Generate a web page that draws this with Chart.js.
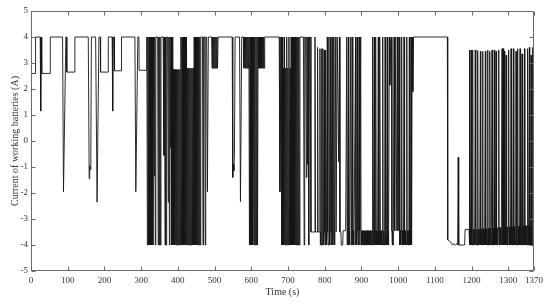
<!DOCTYPE html>
<html>
<head>
<meta charset="utf-8">
<script src="https://cdn.jsdelivr.net/npm/chart.js@4.4.1/dist/chart.umd.min.js"></script>
<style>
  html, body { margin: 0; padding: 0; background: #fff; }
  #wrap { width: 550px; height: 304px; }
</style>
</head>
<body>
<div id="wrap"><canvas id="currentChart" width="550" height="304"></canvas></div>
<script>
// Axis ticks
const xTicks = [0, 100, 200, 300, 400, 500, 600, 700, 800, 900, 1000, 1100, 1200, 1300, 1370];
const yTicks = [-5, -4, -3, -2, -1, 0, 1, 2, 3, 4, 5];

// Time (s) / current (A)
// 0 - 315 s : sparse switching
const tA = [0, 12, 12.5, 25, 26.5, 28, 29, 29.5, 52, 52.5,
  86, 88.5, 95, 97, 97.5, 119, 119.5, 156, 158.5, 160,
  161.5, 163, 164.5, 176, 180, 185, 189, 189.5, 210, 210.5,
  221, 222.5, 224, 227, 227.5, 246, 246.5, 283, 285.5, 291,
  294, 294.5, 315];
const iA = [2.6, 2.6, 4, 4, 1.15, 4, 4, 2.6, 2.6, 4,
  4, -1.95, 4, 4, 2.65, 2.65, 4, 4, -1.45, -0.95,
  -1.1, -0.6, 4, 4, -2.35, 4, 4, 2.65, 2.65, 4,
  4, 1.15, 4, 4, 2.7, 2.7, 4, 4, -1.95, 4,
  4, 2.72, 2.72];

// 315 - 483 s : dense full swing
const tB = [315.5, 317, 318.5, 320, 321.5, 323, 324.5, 326, 327.5, 329,
  330.5, 332, 333.5, 335.5, 337, 338.5, 340, 345, 346.5, 348,
  349.5, 351, 352.5, 354, 360, 362, 363.5, 365, 366.5, 368,
  369.5, 372, 374, 375.5, 377, 378.5, 380, 381.5, 383, 384.5,
  386, 387.5, 389, 390.5, 392, 393.5, 395, 396.5, 398, 399.5,
  401, 402.5, 404, 405.5, 407, 408.5, 410, 411.5, 413, 414.5,
  416, 417.5, 419, 420.5, 422, 423.5, 425, 426.5, 428, 429.5,
  431, 432.5, 434, 435.5, 437, 438.5, 440, 441.5, 443, 444.5,
  446, 447.5, 449, 450.5, 452, 453.5, 455, 456.5, 458, 459.5,
  461, 462.5, 467, 468.5, 470, 473, 474.5, 476, 478.5, 480.5,
  483];
const iB = [4, -4, 4, -4, 4, -4, 4, -4, 4, -4,
  4, -4, 4, -1.35, 4, -4, 4, 4, -4, 4,
  -4, 4, -4, 4, 4, -0.55, 4, -4, 4, -4,
  4, 4, -2.35, 4, -4, 4, -0.25, 4, -4, 4,
  -4, 2.75, -4, 2.75, -4, 2.75, -4, 2.75, -4, 2.75,
  -4, 2.75, -4, 2.75, -4, 4, -4, 4, -4, 4,
  -4, 4, -4, 4, -4, 4, -4, 2.8, -4, 2.8,
  -4, 2.8, -4, 2.8, -4, 2.8, -4, 2.8, -4, 4,
  -4, 4, -4, 4, -4, 4, -4, 4, -4, 4,
  -4, 4, 4, -4, 4, 4, -4, 4, 4, -1.95,
  4];

// 492 - 579 s
const tC = [492, 493, 494.5, 496, 497.5, 499, 500.5, 502, 503.5, 505,
  506.5, 508, 509.5, 548, 549.5, 551, 552.5, 554, 556, 568,
  570.5, 574, 579];
const iC = [4, 2.8, 4, 2.8, 4, 2.8, 4, 2.8, 4, 2.8,
  4, 2.8, 4, 4, -1.4, -0.9, -1.15, -0.6, 4, 4,
  -2.33, 4, 4];

// 580 - 681 s
const tD = [580, 581.5, 583, 584.5, 586, 587.5, 589, 590.5, 592, 593.5,
  595, 596.5, 598, 599.5, 601, 602.5, 604, 606, 607.5, 609,
  611, 612.5, 614, 615.5, 617, 618.5, 620, 621.5, 623, 624.5,
  626, 627.5, 629, 630.5, 632, 633.5, 635, 636.5, 676, 678,
  681];
const iD = [2.8, 4, 2.8, 4, 2.8, 4, 2.8, 4, 2.8, 4,
  -4, 4, -4, 4, -4, 4, -4, 4, -4, 4,
  -4, 4, -4, 4, -4, 4, 2.8, 4, 2.8, 4,
  2.8, 4, 2.8, 4, 2.8, 4, 2.8, 4, 4, -1.95,
  4];

// 683 - 742 s
const tE = [683, 684.5, 686, 687.5, 689, 690.5, 692, 693.5, 695, 696.5,
  698, 699.5, 701, 702.5, 704, 705.5, 707, 708.5, 710, 711.5,
  713, 714.5, 716, 717.5, 719, 720.5, 722, 723.5, 725, 726.5,
  728, 729.5, 731, 732.5, 742];
const iE = [-4, 4, -4, 2.8, -4, 4, -4, 2.8, -4, 4,
  -4, 2.8, -4, 4, -4, 2.8, -4, 4, -4, 4,
  -4, 4, -4, 4, -4, 4, -4, 4, -4, 4,
  -4, 4, -4, 4, 4];

// 744 - 857 s
const tF1 = [744, 745.5, 748, 750, 751.5, 753, 754.5, 756.5, 758, 760,
  762.5, 772, 773.5, 775, 779, 780.5, 782, 786, 787, 788,
  789, 790, 791.5, 792.5, 793.5, 795, 796, 797, 799, 800,
  801, 802.5, 803.5, 804.5, 807, 808, 809, 811.5, 812.5, 813.5,
  816, 817, 818, 821, 822, 823, 825, 826, 827, 830,
  831, 834, 836, 838, 840, 841.5, 844, 845, 849, 850,
  857];
const iF1 = [-4, 4, 4, -1.4, 4, -0.9, 4, -4, 4, 4,
  -3.5, -3.5, 4, -3.5, -3.5, 3.6, -3.5, -3.5, 3.55, -4,
  -3.5, -4, 3.55, -3.5, -4, 3.55, -3.5, -4, 3.5, -3.5,
  -4, 3.5, -3.5, -4, 4, -3.5, -4, 4, -3.5, -4,
  4, -3.5, -4, 4, -4, -3.5, 4, -3.5, -4, 4,
  -3.5, 4, 4, -0.8, 4, -3.5, -3.5, -4, -4, -3.45,
  -3.45];

// 860 - 1042 s
const tF2 = [860, 861, 862, 864.5, 865.5, 866.5, 867.5, 868.5, 871, 872,
  873, 875, 876, 877, 878, 879, 880, 884, 885, 886,
  887, 889, 890, 891, 892, 894, 895, 896, 898, 899,
  900, 901, 902, 903, 904, 905, 906, 907, 908, 909,
  910, 911, 912, 913, 914, 915, 916, 917, 918, 919,
  920, 921, 922, 923, 924, 925, 926, 927, 928, 929,
  930.5, 931.5, 932.5, 933.5, 935, 936, 937, 938, 939.5, 940.5,
  941.5, 942.5, 943.5, 944.5, 946, 947, 948, 949, 950.5, 951.5,
  952.5, 953.5, 954.5, 955.5, 956.5, 958, 959, 960, 961, 962,
  963, 964.5, 965.5, 966.5, 967.5, 968.5, 970.5, 971.5, 972.5, 973.5,
  974.5, 976, 977.5, 980, 982, 983, 984, 985, 986, 987,
  989, 990, 993.5, 994.5, 998.5, 999.5, 1003, 1004, 1005, 1006,
  1007, 1008, 1009.5, 1010.5, 1011.5, 1012.5, 1013.5, 1014.5, 1016, 1017,
  1018, 1019, 1020, 1021, 1022, 1023.5, 1024.5, 1025.5, 1026.5, 1027.5,
  1028.5, 1029.5, 1030.5, 1031.5, 1032.5, 1033.5, 1035, 1036, 1037, 1038,
  1040, 1042];
const iF2 = [4, -4, -3.45, 4, -4, -3.45, -4, -3.45, 4, -4,
  -3.45, 4, -3.45, -4, -3.45, -4, -3.45, 4, -4, -3.45,
  -4, 4, -3.45, -4, -3.45, 4, -4, -3.45, 4, -4,
  -3.45, -4, -3.45, -4, -3.45, -4, -3.45, -4, -3.45, -4,
  -3.45, -4, -3.45, -4, -3.45, -4, -3.45, -4, -3.45, -4,
  -3.45, -4, -3.45, -4, -3.45, -4, -3.45, -4, -3.45, -4,
  4, -3.45, -4, -3.45, 4, -4, -3.45, -4, 4, -3.45,
  -4, -3.45, -4, -3.45, 4, -4, -3.45, -4, 4, -3.45,
  -4, -3.45, -4, -3.45, -4, 4, -3.45, -4, -3.45, -4,
  -3.45, 4, -4, -3.45, -4, -3.45, 4, -4, -3.45, -4,
  -3.45, 4, 2.15, 3.9, 4, -3.45, -4, -3.45, -4, -3.45,
  4, -3.45, 4, -3.45, 4, -3.45, 4, -3.45, -4, -3.45,
  -4, -3.45, 4, -4, -3.45, -4, -3.45, -4, 4, -3.45,
  -4, -3.45, -4, -3.45, -4, 4, -3.45, -4, -3.45, -4,
  -3.45, -4, 4, -4, -3.45, -4, 4, -3.45, -4, 4,
  1.9, 4];

// 1134 - 1193 s : long discharge
const tG = [1134, 1135, 1140, 1144, 1148, 1152, 1156, 1160, 1162, 1163.5,
  1165, 1181, 1182.5, 1193];
const iG = [4, -3.8, -3.85, -3.9, -4, -3.95, -4, -3.95, -4, -0.63,
  -4, -4, -3.4, -3.4];

// 1194 - 1281 s
const tH1 = [1194, 1195, 1196, 1197, 1198.5, 1199.5, 1200.5, 1201.5, 1203, 1204,
  1205, 1206, 1207, 1208, 1209, 1210, 1211, 1212, 1213, 1214,
  1215, 1216.7, 1217.7, 1218.7, 1219.7, 1220.7, 1221.7, 1222.7, 1224, 1225,
  1226, 1227, 1228, 1229, 1230, 1231, 1232, 1233, 1234, 1235,
  1236, 1237.6, 1238.6, 1239.6, 1240.6, 1241.6, 1242.6, 1244, 1245, 1246,
  1247, 1248, 1249, 1250, 1251, 1252, 1253, 1254, 1255.7, 1256.7,
  1257.7, 1258.7, 1259.7, 1260.7, 1262, 1263, 1264, 1265, 1266.6, 1267.6,
  1268.6, 1269.6, 1270.6, 1271.6, 1272.6, 1274, 1275, 1276, 1277, 1278,
  1279, 1280, 1281];
const iH1 = [3.5, -4, -3.4, -4, 3.5, -4, -3.4, -4, 3.5, -4,
  -3.4, -4, -3.4, -4, -3.4, 3.5, -4, -3.4, -4, -3.4,
  -4, 3.48, -4, -3.4, -4, -3.38, -4, -3.38, 3.45, -4,
  -3.38, -4, -3.38, -4, 3.45, -4, -3.38, -4, -3.37, -4,
  -3.37, 3.45, -4, -3.37, -4, -3.37, -4, 3.5, -4, -3.36,
  -4, -3.36, -4, 3.45, -4, -3.36, -4, -3.35, 3.5, -4,
  -3.35, -4, -3.35, -4, 3.5, -4, -3.34, -4, 3.45, -4,
  -3.34, -4, -3.34, -4, -3.33, 3.5, -4, -3.33, -4, -3.33,
  -4, -3.33, -4];

// 1283 - 1370 s
const tH2 = [1283, 1284, 1285, 1286.6, 1287.6, 1289.3, 1290.3, 1291.3, 1292.3, 1294,
  1295, 1296, 1297, 1298, 1299, 1300, 1301, 1302, 1303, 1304,
  1305, 1306, 1307.5, 1308.5, 1309.5, 1310.5, 1311.5, 1312.5, 1314, 1315,
  1316, 1317, 1318, 1319, 1320, 1321, 1322, 1323, 1324, 1325.6,
  1326.6, 1327.6, 1328.6, 1329.6, 1330.6, 1332, 1333, 1334, 1335, 1336,
  1337.5, 1338.5, 1339.5, 1340.5, 1341.5, 1342.5, 1344, 1345, 1346, 1347,
  1348, 1349, 1350, 1351, 1352, 1353, 1354, 1355, 1356, 1357.4,
  1358.4, 1359.4, 1360.4, 1361, 1362, 1363, 1364, 1365, 1366.5, 1368,
  1369, 1370];
const iH2 = [3.55, -4, -3.32, 3.55, -4, 3.45, -4, -3.32, -4, 3.3,
  -4, -3.31, -4, -3.31, -4, -3.31, 3.5, -4, -3.3, -4,
  -3.3, -4, 3.55, -4, -3.3, -4, -3.3, -4, 3.55, -4,
  -3.29, -4, -3.29, -4, -3.29, 3.45, -4, -3.28, -4, 3.55,
  -4, -3.28, -4, -3.28, -4, 3.55, -4, -3.27, -4, -3.27,
  3.35, -4, -3.27, -4, -3.26, -4, 3.55, -4, -3.26, -4,
  -3.26, -4, -3.26, -4, -3.25, 3.55, -4, -3.25, -4, 3.6,
  -4, -3.25, -4, -3.25, 3.3, -4, -3.25, -4, 3.6, -4,
  -3.25, -3.25];

const timeSegments = [tA, tB, tC, tD, tE, tF1, tF2, tG, tH1, tH2];
const currentSegments = [iA, iB, iC, iD, iE, iF1, iF2, iG, iH1, iH2];

const points = [];
timeSegments.forEach((ts, k) => {
  const is = currentSegments[k];
  if (ts.length !== is.length) console.warn('segment length mismatch', k, ts.length, is.length);
  const n = Math.min(ts.length, is.length);
  for (let j = 0; j < n; j++) points.push({ x: ts[j], y: is[j] });
});

const serif = "'Liberation Serif', 'Times New Roman', serif";

// MATLAB style box with inward ticks on all four sides
const boxTicks = {
  id: 'boxTicks',
  afterDraw(chart) {
    const { ctx, chartArea: a, scales } = chart;
    const L = Math.round(a.left) + 0.5, R = Math.round(a.right) - 0.5;
    const T = Math.round(a.top) + 0.5, B = Math.round(a.bottom) - 0.5;
    ctx.save();
    ctx.strokeStyle = '#6a6a6a';
    ctx.lineWidth = 1;
    ctx.beginPath();
    ctx.rect(L, T, R - L, B - T);
    xTicks.forEach(v => {
      const px = Math.round(scales.x.getPixelForValue(v)) + 0.5;
      ctx.moveTo(px, B); ctx.lineTo(px, B - 4);
      ctx.moveTo(px, T); ctx.lineTo(px, T + 4);
    });
    yTicks.forEach(v => {
      const py = Math.round(scales.y.getPixelForValue(v)) + 0.5;
      ctx.moveTo(L, py); ctx.lineTo(L + 4, py);
      ctx.moveTo(R, py); ctx.lineTo(R - 4, py);
    });
    ctx.stroke();
    ctx.restore();
  }
};

new Chart(document.getElementById('currentChart'), {
  type: 'line',
  data: {
    datasets: [{
      label: 'Current',
      data: points,
      borderColor: '#151515',
      borderWidth: 0.9,
      borderJoinStyle: 'bevel',
      pointRadius: 0,
      tension: 0,
      fill: false
    }]
  },
  options: {
    responsive: false,
    animation: false,
    events: [],
    layout: { padding: { left: 0, right: 16, top: 11, bottom: 0 } },
    plugins: { legend: { display: false }, tooltip: { enabled: false } },
    scales: {
      x: {
        type: 'linear',
        min: 0,
        max: 1370,
        afterBuildTicks: s => { s.ticks = xTicks.map(v => ({ value: v })); },
        afterFit: s => { s.height = 33; },
        grid: { display: false, drawTicks: false },
        border: { display: false },
        ticks: {
          autoSkip: false,
          maxRotation: 0,
          padding: 4,
          color: '#333',
          font: { family: serif, size: 9 },
          callback: v => String(v)
        },
        title: {
          display: true,
          text: 'Time (s)',
          color: '#333',
          font: { family: serif, size: 10 },
          padding: { top: 0, bottom: 6 }
        }
      },
      y: {
        min: -5,
        max: 5,
        afterBuildTicks: s => { s.ticks = yTicks.map(v => ({ value: v })); },
        afterFit: s => { s.width = 31; },
        grid: { display: false, drawTicks: false },
        border: { display: false },
        ticks: {
          padding: 3,
          color: '#333',
          font: { family: serif, size: 9 },
          callback: v => String(v)
        },
        title: {
          display: true,
          text: 'Current of working batteries (A)',
          color: '#333',
          font: { family: serif, size: 10 },
          padding: { top: 9, bottom: 0 }
        }
      }
    }
  },
  plugins: [boxTicks]
});
</script>
</body>
</html>
